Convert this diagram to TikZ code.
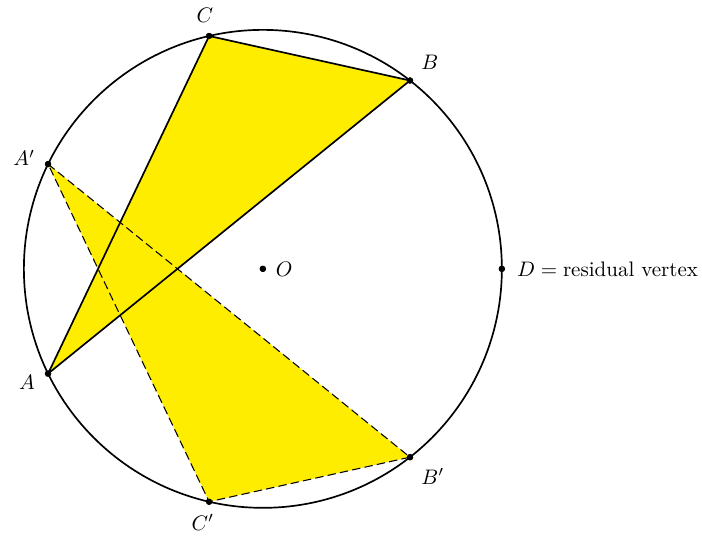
\documentclass[tikz,border=0pt]{standalone}
\definecolor{triyellow}{RGB}{255,237,0}
\begin{document}
\begin{tikzpicture}[
  dot/.style={circle, fill, inner sep=0pt, minimum size=3pt},
  tri/.style={fill=triyellow}
]
\useasboundingbox (-4.40,-4.50) rectangle (7.35,4.50);

% Define points
\node[dot, label={[label distance=1pt]right:$O$}] (O) at (0,0) {};
\node[dot, label={[label distance=1pt, yshift=-4pt]left:$A$}] (A) at (206:4) {};
\node[dot, label={[label distance=1pt]45:$B$}] (B) at (52:4) {};
\node[dot, label={[label distance=1pt, xshift=-2pt]above:$C$}] (C) at (103:4) {};
\node[dot, label={[label distance=1pt, yshift=3pt]left:$A'$}] (A1) at (154:4) {};
\node[dot, label={[label distance=1pt]-45:$B'$}] (B1) at (308:4) {};
\node[dot, label={[label distance=1pt, xshift=-3pt]below:$C'$}] (C1) at (257:4) {};
\node[dot, label={[label distance=2pt]right:$D = \mbox{residual vertex}$}] (D) at (0:4) {};

% Fill triangles
\fill[tri] (A.center) -- (B.center) -- (C.center) -- cycle;
\fill[tri] (A1.center) -- (B1.center) -- (C1.center) -- cycle;

% Draw edges and circle
\draw[thick] (O.center) circle (4);
\draw[thick] (A.center) -- (B.center) -- (C.center) -- cycle;
\draw[line width=0.5pt, dash pattern=on 4pt off 2pt] (A1.center) -- (B1.center) -- (C1.center) -- cycle;

% Redraw points on top
\foreach \p in {O,A,B,C,A1,B1,C1,D}
  \fill (\p) circle (1.5pt);

\end{tikzpicture}
\end{document}
